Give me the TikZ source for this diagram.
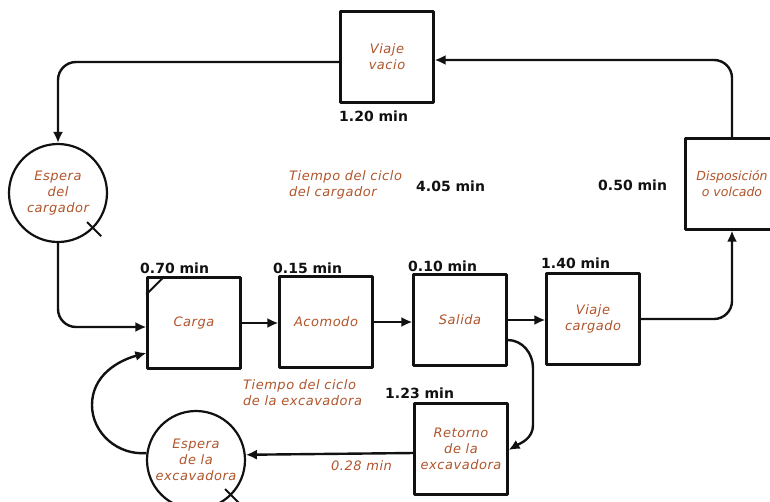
\documentclass[tikz,border=0pt]{standalone}
\usepackage{fontspec}
\setmainfont{DejaVu Sans}
\newfontfamily\cyclefont{DejaVu Sans}[LetterSpace=4]
\newfontfamily\tightfont{DejaVu Sans}
\usepackage{tikz}
\usetikzlibrary{calc,arrows.meta}
\usetikzlibrary{positioning}
\definecolor{ce-text}{HTML}{B0552C}
\definecolor{ce-line}{HTML}{111111}

\begin{document}
\begin{tikzpicture}[
    x=1pt, y=-1pt,
    >={Latex[length=11pt,width=10pt]},
    line join=round
  ]
  \tikzset{
    opbox/.style={draw=ce-line, line width=2.2pt, fill=white, minimum width=93pt, minimum height=91pt, inner sep=0pt, text=ce-text, align=center, font=\cyclefont\itshape\fontsize{13}{16}\selectfont},
    waitcirc/.style={draw=ce-line, line width=2.2pt, circle, fill=white, minimum size=98pt, inner sep=0pt, text=ce-text, align=center, font=\cyclefont\itshape\fontsize{13}{16}\selectfont},
    flow/.style={->, ce-line, line width=2.4pt},
    mins/.style={anchor=west, inner sep=0pt, text=ce-line, font=\bfseries\fontsize{14}{16}\selectfont},
    note/.style={anchor=west, inner sep=0pt, text=ce-text, align=left, font=\cyclefont\itshape\fontsize{13}{16}\selectfont}
  }
  \useasboundingbox (0,0) rectangle (770,501);

  \node (vvacio) [opbox] at (387,57) {Viaje\\vacio};
  \node (ecarg) [waitcirc] at (58,193) {Espera\\del\\cargador};
  \node (carga) [opbox] at (194,323) {Carga};
  \node (acomodo) [opbox] at (326,322) {Acomodo};
  \node (salida) [opbox] at (460,320) {Salida};
  \node (vcargado) [opbox] at (593,319) {Viaje\\cargado};
  \node (dispos) [opbox, font=\tightfont\itshape\fontsize{12.5}{16}\selectfont] at (732,184) {Disposición\\o volcado};
  \node (retorno) [opbox] at (461,449) {Retorno\\de la\\excavadora};
  \node (eexc) [waitcirc] at (196,460) {Espera\\de la\\excavadora};

  % tiempos
  \node[mins] at (339,116) {1.20 min};
  \node[mins] at (140,268) {0.70 min};
  \node[mins] at (273,268) {0.15 min};
  \node[mins] at (408,266) {0.10 min};
  \node[mins] at (541,263) {1.40 min};
  \node[mins] at (598,185) {0.50 min};
  \node[mins] at (416,186) {4.05 min};
  \node[mins] at (385,393) {1.23 min};
  \node[note] at (289,185) {Tiempo del ciclo\\del cargador};
  \node[note] at (243,393) {Tiempo del ciclo\\de la excavadora};
  \node[note] at (331,466) {0.28 min};

  % marcas
  \draw[ce-line, line width=2pt] ([yshift=-18pt]carga.north west) -- ([xshift=18pt]carga.north west);
  \draw[ce-line, line width=2pt] (ecarg.-45) ++(135:9pt) -- ++(-45:20pt);
  \draw[ce-line, line width=2pt] (eexc.-45) ++(135:9pt) -- ++(-45:20pt);

  % ciclo del cargador
  \draw[flow, rounded corners=18pt] ([yshift=-5pt]vvacio.west) -| (ecarg.north);
  \draw[flow, rounded corners=18pt] (ecarg.south) |- ([yshift=-4pt]carga.west);
  \draw[flow] (carga.east) -- (carga.east -| acomodo.west);
  \draw[flow] (acomodo.east) -- (acomodo.east -| salida.west);
  \draw[flow] (salida.east) -- (salida.east -| vcargado.west);
  \draw[flow, rounded corners=18pt] (vcargado.east) -| (dispos.south);
  \draw[flow, rounded corners=18pt] (dispos.north) |- ([yshift=-3pt]vvacio.east);

  % ciclo de la excavadora
  \draw[flow] ([yshift=-20pt]salida.east) to[out=0, in=90] (533,368) -- (533,425) to[out=-90, in=30] ([yshift=-1pt]retorno.east);
  \draw[flow] ([yshift=-4pt]retorno.west) -- (eexc.6);
  \draw[flow] (eexc.172) to[out=185, in=-90] (92,405) to[out=90, in=195] ([yshift=-30pt]carga.west);
\end{tikzpicture}
\end{document}
